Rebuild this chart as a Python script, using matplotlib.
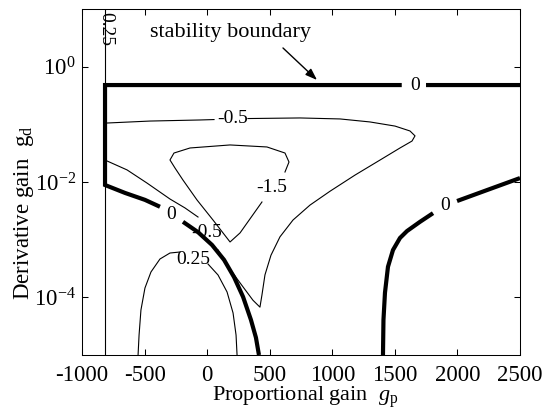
"""Stability map: contour lines over proportional / derivative gain"""

import numpy as np
import matplotlib.pyplot as plt
from matplotlib.ticker import FixedLocator, NullLocator, LogFormatterSciNotation

plt.rcParams['font.family'] = ['Liberation Serif', 'DejaVu Serif']
plt.rcParams['mathtext.fontset'] = 'custom'
plt.rcParams['mathtext.rm'] = 'Liberation Serif'
plt.rcParams['mathtext.it'] = 'Liberation Serif:italic'
plt.rcParams['axes.unicode_minus'] = False

nan = np.nan

# contour level 0 (stability boundary), left branch incl. top line; nan = label gap
zero_left_x = [2500, 1749, nan, 1555, -816, -816, -656, -497, -377, nan,
               -193, -73, 39, 135, 215, 287, 350, 390, 414]
zero_left_y = [0.48, 0.48, nan, 0.48, 0.48, 8.87e-3, 6.46e-3, 4.90e-3, 3.72e-3, nan,
               2.04e-3, 1.35e-3, 8.1e-4, 4.47e-4, 2.24e-4, 1.02e-4, 4.07e-5, 2.0e-5, 1.0e-5]

# contour level 0, right branch
zero_right_x = [1405, 1409, 1421, 1445, 1485, 1541, 1597, 1701, 1805, nan,
                1997, 2236, 2500]
zero_right_y = [1.0e-5, 4.07e-5, 1.20e-4, 3.39e-4, 6.61e-4, 1.07e-3, 1.41e-3,
                2.04e-3, 2.88e-3, nan, 4.68e-3, 7.24e-3, 1.17e-2]

# contour level -0.5
m05_x = [-816, -457, -57, 55, nan, 326, 742, 1062, 1301, 1501, 1621, 1661, 1637,
         1541, 1381, 1182, 982, 822, 686, 582, 510, 462, 438, 422, 366, 263, 143,
         87, nan, -73, -177, -297, -481, -640, -816]
m05_y = [0.105, 0.114, 0.119, 0.121, nan, 0.126, 0.129, 0.124, 0.110, 0.0933,
         0.0767, 0.0631, 0.0513, 0.0389, 0.0240, 0.0132, 6.92e-3, 3.98e-3, 2.19e-3,
         1.12e-3, 5.37e-4, 2.45e-4, 1.10e-4, 6.76e-5, 8.91e-5, 1.78e-4, 4.07e-4,
         6.61e-4, nan, 2.47e-3, 3.55e-3, 5.07e-3, 9.6e-3, 0.0162, 0.024]

# contour level -1.5
m15_x = [622, 654, 622, 478, 183, -137, -265, -297, -257, -193, -81, 47, 183,
         263, 438]
m15_y = [0.0149, 0.0222, 0.0318, 0.0405, 0.0439, 0.0389, 0.0318, 0.0241, 0.0175,
         0.0108, 4.88e-3, 2.19e-3, 9.12e-4, 1.31e-3, 4.50e-3]

# contour level 0.25, lower arch
p25_x = [-552, -544, -529, -497, -449, -377, -297, -217, nan,
         7, 87, 159, 207, 231, 239]
p25_y = [1.0e-5, 2.22e-5, 6.03e-5, 1.45e-4, 2.75e-4, 4.62e-4, 5.87e-4, 6.11e-4, nan,
         3.78e-4, 2.44e-4, 1.24e-4, 5.36e-5, 2.22e-5, 1.0e-5]

# contour level 0.25, vertical line
p25_vert_x = [-816, -816]
p25_vert_y = [1e-5, 1e1]

# contour labels: text, x, y, rotation
label_text = ['0', '0', '0', '-0.5', '-0.5', '-1.5', '0.25', '0.25']
label_x = [1661, -289, 1901, 207, -4, 518, -113, -810]
label_y = [0.48, 2.69e-3, 3.98e-3, 0.124, 1.33e-3, 8.18e-3, 4.45e-4, 4.5]
label_rot = [0, 0, 0, 0, 0, 0, 0, -90]

xticks = [-1000, -500, 0, 500, 1000, 1500, 2000, 2500]
yticks = [1e-4, 1e-2, 1e0]

fig = plt.figure(figsize=(5.44, 4.12), dpi=100)
ax = fig.add_axes([82 / 544, 1 - 355 / 412, 438 / 544, 346 / 412])
ax.set_yscale('log')

thick = dict(color='k', lw=3.0, solid_capstyle='butt', solid_joinstyle='miter')
thin = dict(color='k', lw=0.8)

ax.plot(p25_vert_x, p25_vert_y, **thin)
ax.plot(zero_left_x, zero_left_y, **thick)
ax.plot(zero_right_x, zero_right_y, **thick)
ax.plot(m05_x, m05_y, **thin)
ax.plot(m15_x, m15_y, **thin)
ax.plot(p25_x, p25_y, **thin)

for s, x, y, r in zip(label_text, label_x, label_y, label_rot):
    ax.text(x, y, s, ha='center', va='center', rotation=r, fontsize=14)

ax.text(183, 3.84, 'stability boundary', ha='center', va='center', fontsize=16)
ax.annotate('', xy=(878, 0.587), xytext=(606, 2.11),
            arrowprops=dict(arrowstyle='-|>,head_length=0.7,head_width=0.25',
                            color='k', lw=1.0, shrinkA=0, shrinkB=0))

ax.set_xlim(-1000, 2500)
ax.set_ylim(1e-5, 1e1)
ax.set_xticks(xticks)
ax.yaxis.set_major_locator(FixedLocator(yticks))
ax.yaxis.set_major_formatter(LogFormatterSciNotation())
ax.yaxis.set_minor_locator(NullLocator())
ax.tick_params(which='both', direction='in', top=True, right=True,
               length=4, width=0.75, labelsize=16.5)
ax.tick_params(axis='x', pad=7)
ax.tick_params(axis='y', pad=4.5)
for sp in ax.spines.values():
    sp.set_linewidth(0.75)

ax.set_xlabel(r'Proportional gain  $g_{\rm p}$', fontsize=16)
ax.set_ylabel(r'Derivative gain  $\mathrm{g_d}$', fontsize=16.5)
ax.xaxis.set_label_coords(0.51, -0.085)
ax.yaxis.set_label_coords(-0.105, 0.41)

fig.savefig('out.png', dpi=100)
